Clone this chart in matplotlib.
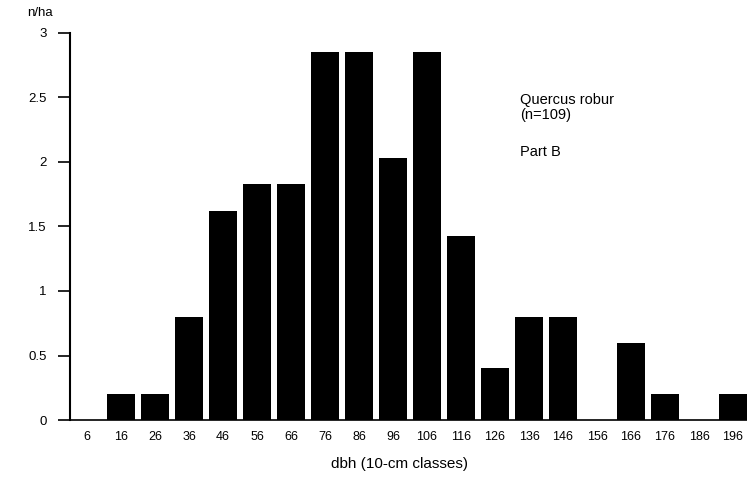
import numpy as np
import matplotlib.pyplot as plt

plt.rcParams['font.family'] = ['Liberation Sans', 'DejaVu Sans']

# dbh classes (10-cm) and stem numbers per ha
classes = ['6', '16', '26', '36', '46', '56', '66', '76', '86', '96',
           '106', '116', '126', '136', '146', '156', '166', '176', '186', '196']
n_ha = [0, 0.2, 0.2, 0.8, 1.62, 1.83, 1.83, 2.85, 2.85, 2.03,
        2.85, 1.43, 0.4, 0.8, 0.8, 0, 0.6, 0.2, 0, 0.2]
yticks = [0, 0.5, 1, 1.5, 2, 2.5, 3]
ylabels = ['0', '0.5', '1', '1.5', '2', '2.5', '3']

fig = plt.figure(figsize=(7.47, 4.82), dpi=100)
ax = fig.add_axes([0.0937, 0.1286, 0.9063, 0.803])

x = np.arange(len(classes))
ax.bar(x, n_ha, width=0.8, color='black')

ax.set_xlim(-0.5, 19.41)
ax.set_ylim(0, 3)
ax.set_xticks(x)
ax.set_xticklabels(classes, fontsize=9)
ax.set_yticks(yticks)
ax.set_yticklabels(ylabels, fontsize=9.5)
ax.tick_params(axis='x', length=0, pad=8)
ax.tick_params(axis='y', length=9, width=1.2, pad=8)

for s in ['top', 'right']:
    ax.spines[s].set_visible(False)
ax.spines['left'].set_linewidth(1.5)
ax.spines['bottom'].set_linewidth(1.2)

ax.set_xlabel('dbh (10-cm classes)', fontsize=11)
ax.xaxis.set_label_coords(0.487, -0.095)
fig.text(0.036, 0.985, 'n/ha', fontsize=9.5, va='top')

ax.text(0.665, 0.845, 'Quercus robur\n(n=109)', transform=ax.transAxes,
        fontsize=10.5, va='top', linespacing=1.05)
ax.text(0.665, 0.71, 'Part B', transform=ax.transAxes, fontsize=10.5, va='top')

fig.savefig('out.png', dpi=100)
